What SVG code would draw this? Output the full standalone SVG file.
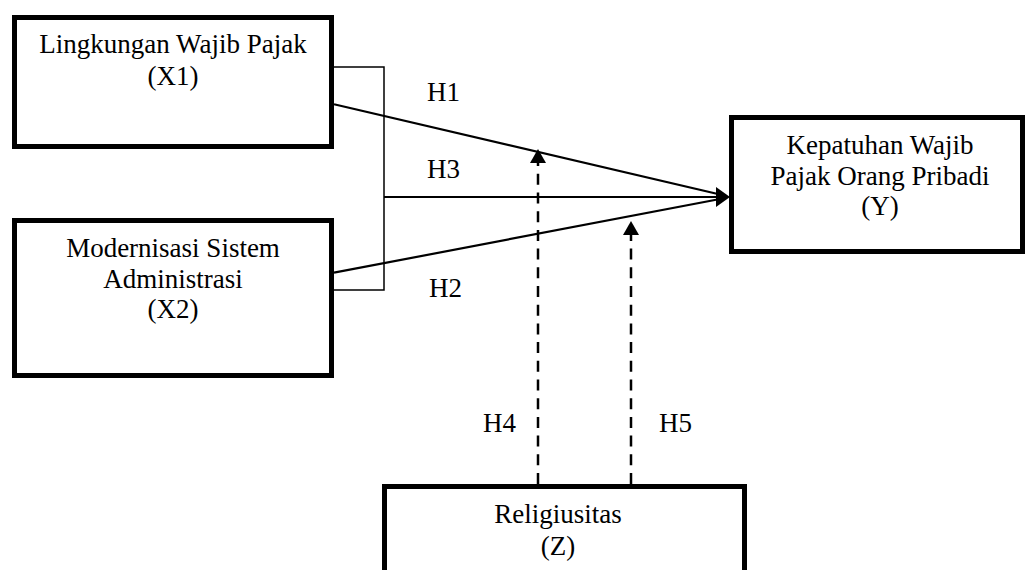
<svg xmlns="http://www.w3.org/2000/svg" width="1026" height="570" viewBox="0 0 1026 570">
<style>
  .box { fill: #ffffff; stroke: #000000; stroke-width: 5; }
  .lbl { font-family: "Liberation Serif", "Times New Roman", serif; font-size: 27px; fill: #000000; }
  .mid { text-anchor: middle; }
  .solid { fill: none; stroke: #000000; stroke-width: 2.2; }
  .thin { fill: none; stroke: #000000; stroke-width: 1.5; }
  .dash { fill: none; stroke: #000000; stroke-width: 2.5; stroke-dasharray: 11 7.7; }
  .head { fill: #000000; stroke: none; }
</style>
<rect x="0" y="0" width="1026" height="570" fill="#ffffff"/>

<g id="connectors">
  <polyline class="thin" points="334,67 384,67 384,290 334,290"/>
  <line class="solid" x1="334" y1="104.3" x2="720" y2="194.5"/>
  <line class="solid" x1="334" y1="272.7" x2="720" y2="199"/>
  <line class="solid" x1="384" y1="197" x2="720" y2="197"/>
  <polygon class="head" points="730,197 716,187 716,207"/>
  <line class="dash" x1="538" y1="484" x2="538" y2="160"/>
  <polygon class="head" points="538,149 530,163 546,163"/>
  <line class="dash" x1="631" y1="484" x2="631" y2="232"/>
  <polygon class="head" points="631,221 623,235 639,235"/>
  <text class="lbl" x="427" y="101">H1</text>
  <text class="lbl" x="427" y="178">H3</text>
  <text class="lbl" x="429" y="297">H2</text>
  <text class="lbl" x="483" y="432">H4</text>
  <text class="lbl" x="659" y="432">H5</text>
</g>

<g id="node-x1">
  <rect class="box" x="14.5" y="17.5" width="317" height="129"/>
  <text class="lbl mid" x="173" y="53">Lingkungan Wajib Pajak</text>
  <text class="lbl mid" x="173" y="85">(X1)</text>
</g>

<g id="node-x2">
  <rect class="box" x="14.5" y="220.5" width="317" height="155"/>
  <text class="lbl mid" x="173" y="257">Modernisasi Sistem</text>
  <text class="lbl mid" x="173" y="288">Administrasi</text>
  <text class="lbl mid" x="173" y="318">(X2)</text>
</g>

<g id="node-y">
  <rect class="box" x="731.5" y="117.5" width="291" height="134"/>
  <text class="lbl mid" x="880" y="154">Kepatuhan Wajib</text>
  <text class="lbl mid" x="880" y="185">Pajak Orang Pribadi</text>
  <text class="lbl mid" x="880" y="215">(Y)</text>
</g>

<g id="node-z">
  <rect class="box" x="384.5" y="486.5" width="360" height="100"/>
  <text class="lbl mid" x="558" y="523">Religiusitas</text>
  <text class="lbl mid" x="558" y="555">(Z)</text>
</g>
</svg>
